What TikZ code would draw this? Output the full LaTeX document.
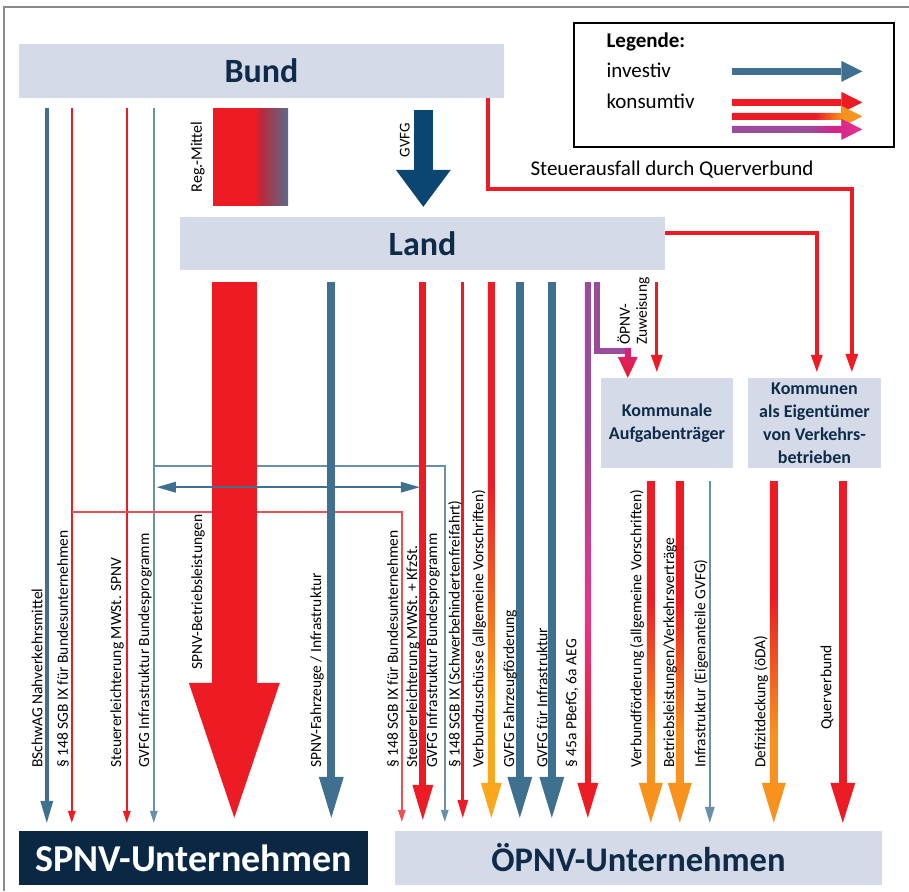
\documentclass[tikz,border=0pt]{standalone}
\usepackage{fontspec}
\setmainfont{Carlito}
\usetikzlibrary{calc}
\usetikzlibrary{arrows.meta}
\usetikzlibrary{positioning}

\definecolor{qred}{HTML}{ED1C24}
\definecolor{qlightred}{HTML}{F04E55}
\definecolor{qorange}{HTML}{F7921E}
\definecolor{qyellow}{HTML}{FBA71B}
\definecolor{qpurple}{HTML}{9C4A9C}
\definecolor{qpink}{HTML}{E6358C}
\definecolor{qmagenta}{HTML}{D5218A}
\definecolor{qblue}{HTML}{40708F}
\definecolor{qthinblue}{HTML}{6990AB}
\definecolor{qgvfg}{HTML}{0A4670}
\definecolor{qnavy}{HTML}{0E2C4A}
\definecolor{qdark}{HTML}{0A2744}
\definecolor{qbox}{HTML}{D4DAE7}
\definecolor{qregblue}{HTML}{5C6A8A}
\definecolor{qregmid}{HTML}{B92A3C}
\definecolor{qframe}{HTML}{8A8A8A}

% shadings for the gradient arrows
\pgfdeclareverticalshading{redorange}{100bp}{color(0bp)=(qorange); color(25bp)=(qorange); color(38bp)=(qorange); color(58bp)=(qred); color(100bp)=(qred)}
\pgfdeclareverticalshading{redyellow}{100bp}{color(0bp)=(qyellow); color(25bp)=(qyellow); color(36bp)=(qyellow); color(56bp)=(qred); color(100bp)=(qred)}
\pgfdeclareverticalshading{purplered}{100bp}{color(0bp)=(qred); color(25bp)=(qred); color(31bp)=(qred); color(44bp)=(qpink); color(62bp)=(qpurple); color(100bp)=(qpurple)}
\pgfdeclareverticalshading{magred}{100bp}{color(0bp)=(qred); color(25bp)=(qred); color(75bp)=(qmagenta); color(100bp)=(qmagenta)}
\pgfdeclarehorizontalshading{legorange}{100bp}{color(0bp)=(qred); color(25bp)=(qred); color(57bp)=(qred); color(67bp)=(qorange); color(100bp)=(qorange)}
\pgfdeclarehorizontalshading{legpurple}{100bp}{color(0bp)=(qpurple); color(25bp)=(qpurple); color(55bp)=(qpurple); color(64bp)=(qmagenta); color(75bp)=(qpink); color(100bp)=(qpink)}
\pgfdeclarehorizontalshading{regmittel}{100bp}{color(0bp)=(qred); color(25bp)=(qred); color(53bp)=(qred); color(57bp)=(qregmid); color(75bp)=(qregblue); color(100bp)=(qregblue)}

\newcommand\bigfont{\fontsize{34}{36}\selectfont\bfseries}
\newcommand\boxfont{\fontsize{18}{23}\selectfont\bfseries}
\newcommand\legfont{\fontsize{21}{24}\selectfont}
\newcommand\lblfont{\fontsize{15.5}{17}\selectfont}

% start, tip, shaft width, head width, head length, shading
\newcommand{\gradarrow}[6]{%
  \shade[shading=#6] let \p1=(#1), \p2=(#2) in
    ({\x1-#3/2},\y1) -- ({\x1+#3/2},\y1) -- ({\x1+#3/2},{\y2+#5})
    -- ({\x1+#4/2},{\y2+#5}) -- (\x1,\y2) -- ({\x1-#4/2},{\y2+#5})
    -- ({\x1-#3/2},{\y2+#5}) -- cycle;}
% start, tip, shading (legend only)
\newcommand{\legarrow}[3]{%
  \shade[shading=#3] let \p1=(#1), \p2=(#2) in
    (\x1,{\y1+3.5pt}) -- ({\x2-21pt},{\y1+3.5pt}) -- ({\x2-21pt},{\y1+10.5pt})
    -- (\x2,\y1) -- ({\x2-21pt},{\y1-10.5pt}) -- ({\x2-21pt},{\y1-3.5pt})
    -- (\x1,{\y1-3.5pt}) -- cycle;}

\begin{document}
\begin{tikzpicture}[x=1pt,y=-1pt]
  \tikzset{
    box/.style={fill=qbox, text=qnavy, inner sep=0pt, align=center},
    lbl/.style={rotate=90, anchor=west, inner sep=0pt, font=\lblfont},
    arrowhd/.style 2 args={-{Triangle[width=#1,length=#2,line width=0pt]}},
    thinred/.style={qred, line width=2pt, arrowhd={8pt}{12pt}, shorten >=8pt},
    thinblue/.style={qthinblue, line width=2pt, arrowhd={8pt}{12pt}, shorten >=8pt},
    redbar/.style={qred, line width=7pt, arrowhd={21pt}{35pt}},
    bluebar/.style={qblue, line width=8pt, arrowhd={25pt}{41pt}},
  }

  \useasboundingbox (0,0) rectangle (909,891);
  \draw[qframe, line width=1.5pt] (4,891) -- (4,7) -- (909,7);

  % BOXES
  \node[box, minimum width=485pt, minimum height=54pt, font=\bigfont] (bund) at (261.5,71) {Bund};
  \node[box, minimum width=485pt, minimum height=53pt, font=\bigfont] (land) at (422.5,243.5) {Land};
  \node[box, minimum width=132pt, minimum height=90pt, font=\boxfont] (kat) at (667,423) {Kommunale\\Aufgabenträger};
  \node[box, minimum width=133pt, minimum height=90pt, font=\boxfont] (keig) at (814.5,423) {Kommunen\\als Eigentümer\\von Verkehrs-\\betrieben};
  \node[box, fill=qdark, text=white, minimum width=349pt, minimum height=54pt, font=\fontsize{38}{40}\selectfont\bfseries] (spnv) at (193.5,858) {SPNV-Unternehmen};
  \node[box, minimum width=487pt, minimum height=54pt, font=\fontsize{34.5}{36}\selectfont\bfseries] (oepnv) at (638.5,858) {ÖPNV-Unternehmen};

  % LEGEND
  \node[draw=black, line width=1.3pt, minimum width=320pt, minimum height=124pt, inner sep=0pt] (legend) at (734,85) {};
  \node[font=\legfont\bfseries, anchor=base west, inner sep=0pt] (leghead) at ($(legend.north west)+(33,25)$) {Legende:};
  \node[font=\legfont, anchor=base west, inner sep=0pt] (leginv) at ($(legend.north west)+(33,55)$) {investiv};
  \node[font=\legfont, anchor=base west, inner sep=0pt] (legkon) at ($(legend.north west)+(33,86)$) {konsumtiv};
  \draw[qblue, line width=7pt, arrowhd={21pt}{21pt}] ($(legend.north west)+(159,49)$) -- ($(legend.north west)+(289,49)$);
  \draw[qred, line width=7pt, arrowhd={21pt}{21pt}] ($(legend.north west)+(159,80)$) -- ($(legend.north west)+(289,80)$);
  \legarrow{$(legend.north west)+(159,94)$}{$(legend.north west)+(289,94)$}{legorange}
  \legarrow{$(legend.north west)+(159,107)$}{$(legend.north west)+(289,107)$}{legpurple}

  % START POINTS
  \coordinate (b1) at ($(bund.south west)+(28,10)$);
  \coordinate (b2) at ($(bund.south west)+(53,10)$);
  \coordinate (b3) at ($(bund.south west)+(108,10)$);
  \coordinate (b4) at ($(bund.south west)+(135,10)$);
  \coordinate (l1) at ($(land.south west)+(54.5,12)$);
  \coordinate (l2) at ($(land.south west)+(151.5,12)$);
  \coordinate (l3) at ($(land.south west)+(243,12)$);
  \coordinate (l4) at ($(land.south west)+(283,12)$);
  \coordinate (l5) at ($(land.south west)+(311.5,12)$);
  \coordinate (l6) at ($(land.south west)+(340,12)$);
  \coordinate (l7) at ($(land.south west)+(372,12)$);
  \coordinate (l8) at ($(land.south west)+(408,12)$);
  \coordinate (l9) at ($(land.south west)+(417,12)$);
  \coordinate (l10) at ($(land.south west)+(477,12)$);
  \coordinate (k1) at ($(kat.south west)+(50,13)$);
  \coordinate (k2) at ($(kat.south west)+(79,13)$);
  \coordinate (k3) at ($(kat.south west)+(109,13)$);
  \coordinate (e1) at ($(keig.south west)+(26,13)$);
  \coordinate (e2) at ($(keig.south west)+(95,13)$);
  \coordinate (kin1) at ($(keig.north west)+(69,-6)$);
  \coordinate (kin2) at ($(keig.north west)+(104,-6)$);

  % BUND TO SPNV
  \draw[qblue, line width=4.5pt, arrowhd={13pt}{22pt}, shorten >=8pt] (b1) -- (b1 |- spnv.north);
  \draw[thinred] (b2) -- (b2 |- spnv.north);
  \draw[thinred] (b3) -- (b3 |- spnv.north);
  \draw[thinblue] (b4) -- (b4 |- spnv.north);
  % branches to OEPNV
  \draw[thinblue, line width=1.6pt, shorten >=9pt] ($(b4)+(0,358)$) -| ($(oepnv.north west)+(50,0)$);
  \draw[thinred, qlightred, line width=1.6pt, shorten >=9pt] ($(b2)+(0,404)$) -| ($(oepnv.north west)+(7,0)$);

  % REG.-MITTEL
  \node[shade, shading=regmittel, minimum width=75pt, minimum height=97pt, inner sep=0pt, anchor=north west] (regm) at ($(bund.south west)+(194,10)$) {};
  \node[lbl, font=\fontsize{16}{18}\selectfont, left=8pt of regm, anchor=south] (regl) {Reg.-Mittel};

  % GVFG
  \coordinate (g1) at ($(bund.south west)+(404.5,12)$);
  \draw[qgvfg, line width=19pt, arrowhd={55pt}{37pt}, shorten >=10pt] (g1) -- (g1 |- land.north);
  \node[lbl, anchor=center, font=\fontsize{15}{17}\selectfont] (gvfgl) at ($(g1)+(-18.5,30)$) {GVFG};

  % STEUERAUSFALL
  \draw[qred, line width=4pt, arrowhd={13pt}{18pt}] ($(bund.south east)+(-16,0)$) -- ++(0,91) -| (kin2);
  \node[font=\legfont, inner sep=0pt] (steuer) at (672,170) {Steuerausfall durch Querverbund};
  \draw[qred, line width=3.5pt, arrowhd={12pt}{17pt}] ($(land.north east)+(0,16)$) -| (kin1);

  % LAND TO SPNV / OEPNV
  \draw[qred, line width=45pt, arrowhd={91pt}{135pt}, shorten >=13pt] (l1) -- (l1 |- spnv.north);
  \draw[bluebar, shorten >=13pt] (l2) -- (l2 |- spnv.north);
  \draw[redbar, shorten >=11pt] (l3) -- (l3 |- oepnv.north);
  \draw[qred, line width=3pt, arrowhd={11pt}{18pt}, shorten >=13pt] (l4) -- (l4 |- oepnv.north);
  \gradarrow{l5}{$(l5 |- oepnv.north)+(0,-13)$}{7pt}{21pt}{35pt}{redyellow}
  \draw[bluebar, shorten >=13pt] (l6) -- (l6 |- oepnv.north);
  \draw[bluebar, shorten >=13pt] (l7) -- (l7 |- oepnv.north);
  \gradarrow{l8}{$(l8 |- oepnv.north)+(0,-13)$}{6pt}{21pt}{35pt}{purplered}
  % double arrow
  \draw[qblue, line width=2pt, {Triangle[width=11pt,length=19pt,line width=0pt]}-{Triangle[width=11pt,length=19pt,line width=0pt]}] ($(b4)+(3,379)$) -- ($(l3)+(-3,205)$);

  % LAND TO KOMMUNALE
  \draw[qpurple, line width=6pt] (l9) |- ($(kat.north west)+(30,-27)$);
  \gradarrow{$(kat.north west)+(27,-30)$}{$(kat.north west)+(27,0)$}{6pt}{20pt}{21pt}{magred}
  \draw[qred, line width=3pt, arrowhd={12pt}{17pt}, shorten >=6pt] (l10) -- (l10 |- kat.north);
  \node[lbl, align=left] (zuw) at (633.5,345) {ÖPNV-\\Zuweisung};

  % KOMMUNEN TO OEPNV
  \gradarrow{k1}{$(k1 |- oepnv.north)+(0,-8)$}{8pt}{24pt}{40pt}{redorange}
  \gradarrow{k2}{$(k2 |- oepnv.north)+(0,-8)$}{8pt}{24pt}{40pt}{redorange}
  \draw[thinblue, arrowhd={10pt}{16pt}] (k3) -- (k3 |- oepnv.north);
  \gradarrow{e1}{$(e1 |- oepnv.north)+(0,-8)$}{8pt}{24pt}{40pt}{redorange}
  \draw[qred, line width=8pt, arrowhd={25pt}{40pt}, shorten >=8pt] (e2) -- (e2 |- oepnv.north);

  % LABELS
  \node[lbl] (t1) at (37,768) {BSchwAG Nahverkehrsmittel};
  \node[lbl] (t2) at (63,768) {§ 148 SGB IX für Bundesunternehmen};
  \node[lbl] (t3) at (117,768) {Steuererleichterung MWSt. SPNV};
  \node[lbl] (t4) at (145,768) {GVFG Infrastruktur Bundesprogramm};
  \node[lbl] (t5) at (198,670) {SPNV-Betriebsleistungen};
  \node[lbl] (t6) at (317,768) {SPNV-Fahrzeuge / Infrastruktur};
  \node[lbl] (t7) at (393,768) {§ 148 SGB IX für Bundesunternehmen};
  \node[lbl] (t8) at (413,768) {Steuererleichterung MWSt. + KfzSt.};
  \node[lbl] (t9) at (433,768) {GVFG Infrastruktur Bundesprogramm};
  \node[lbl] (t10) at (455,768) {§ 148 SGB IX (Schwerbehindertenfreifahrt)};
  \node[lbl] (t11) at (479,768) {Verbundzuschüsse (allgemeine Vorschriften)};
  \node[lbl] (t12) at (510,768) {GVFG Fahrzeugförderung};
  \node[lbl] (t13) at (542,768) {GVFG für Infrastruktur};
  \node[lbl] (t14) at (572,768) {§ 45a PBefG, 6a AEG};
  \node[lbl] (t15) at (637,768) {Verbundförderung (allgemeine Vorschriften)};
  \node[lbl] (t16) at (670,768) {Betriebsleistungen/Verkehrsverträge};
  \node[lbl] (t17) at (701,768) {Infrastruktur (Eigenanteile GVFG)};
  \node[lbl] (t18) at (761,768) {Defizitdeckung (öDA)};
  \node[lbl] (t19) at (827,730) {Querverbund};
\end{tikzpicture}
\end{document}
